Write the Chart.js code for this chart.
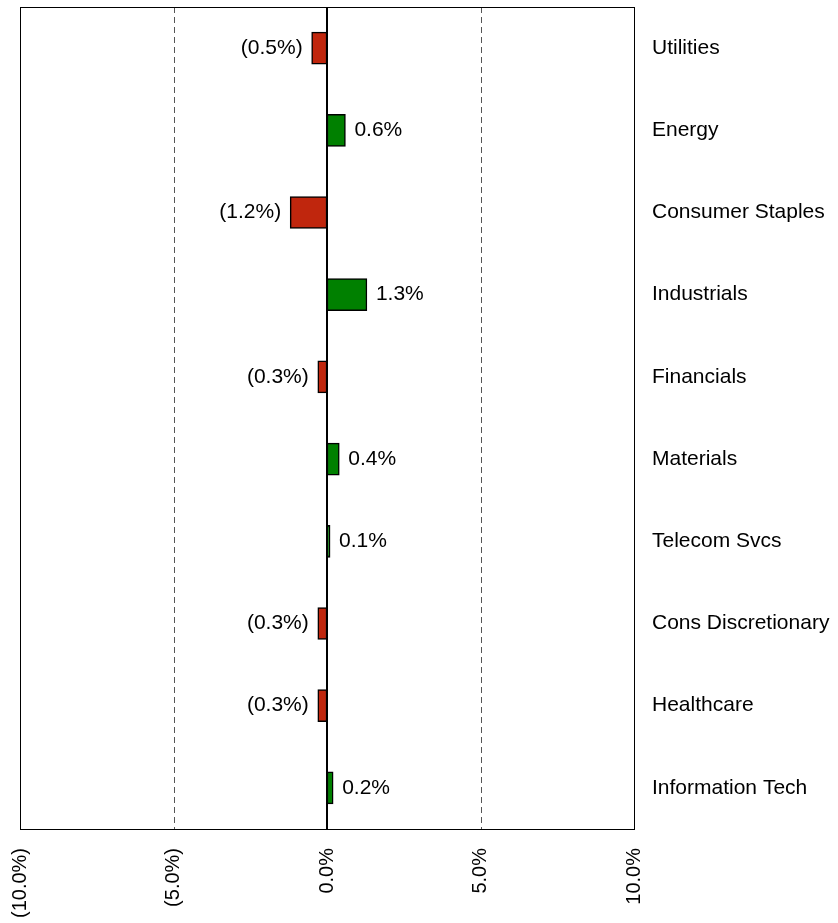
<!DOCTYPE html>
<html>
<head>
<meta charset="utf-8">
<script src="https://cdn.jsdelivr.net/npm/chart.js@4"></script>
<style>
  html, body { margin: 0; padding: 0; background: #fff; }
  #wrap { width: 838px; height: 923px; }
</style>
</head>
<body>
<div id="wrap"><canvas id="grafico"></canvas></div>
<script>
const sectors = ['Utilities', 'Energy', 'Consumer Staples', 'Industrials', 'Financials',
    'Materials', 'Telecom Svcs', 'Cons Discretionary', 'Healthcare', 'Information Tech'];
const values = [-0.5, 0.6, -1.2, 1.3, -0.3, 0.4, 0.1, -0.3, -0.3, 0.2];
const tickValues = [-10, -5, 0, 5, 10];

const FONT = '"Liberation Sans", Arial, sans-serif';

function fmtPct(v) {
    const s = Math.abs(v).toFixed(1) + '%';
    return v < 0 ? '(' + s + ')' : s;
}

// value labels at the end of each bar
const barLabels = {
    id: 'barLabels',
    afterDatasetsDraw(chart) {
        const ctx = chart.ctx;
        const meta = chart.getDatasetMeta(0);
        ctx.save();
        ctx.font = '21px ' + FONT;
        ctx.fillStyle = '#000';
        ctx.textBaseline = 'middle';
        meta.data.forEach(function (bar, i) {
            const v = values[i];
            if (v < 0) {
                ctx.textAlign = 'right';
                ctx.fillText(fmtPct(v), bar.x - 9, bar.y);
            } else {
                ctx.textAlign = 'left';
                ctx.fillText(fmtPct(v), bar.x + 9, bar.y);
            }
        });
        ctx.restore();
    }
};

// grid lines and frame around the plot area
const frame = {
    id: 'frame',
    beforeDatasetsDraw(chart) {
        const ctx = chart.ctx;
        const a = chart.chartArea;
        const x = chart.scales.x;
        ctx.save();
        ctx.strokeStyle = '#555';
        ctx.lineWidth = 1;
        ctx.setLineDash([6, 4]);
        [-5, 5].forEach(function (v) {
            const px = Math.round(x.getPixelForValue(v)) + 0.5;
            ctx.beginPath();
            ctx.moveTo(px, a.top);
            ctx.lineTo(px, a.bottom);
            ctx.stroke();
        });
        ctx.setLineDash([]);
        ctx.strokeStyle = '#000';
        ctx.strokeRect(Math.round(a.left) + 0.5, Math.round(a.top) + 0.5,
            Math.round(a.right - a.left), Math.round(a.bottom - a.top));
        ctx.restore();
    },
    afterDatasetsDraw(chart) {
        const ctx = chart.ctx;
        const a = chart.chartArea;
        const px = Math.round(chart.scales.x.getPixelForValue(0));
        ctx.save();
        ctx.strokeStyle = '#000';
        ctx.lineWidth = 2;
        ctx.beginPath();
        ctx.moveTo(px, a.top);
        ctx.lineTo(px, a.bottom);
        ctx.stroke();
        ctx.restore();
    }
};

new Chart(document.getElementById('grafico').getContext('2d'), {
    type: 'bar',
    data: {
        labels: sectors,
        datasets: [{
            data: values,
            backgroundColor: values.map(v => v < 0 ? '#C0260D' : '#008000'),
            borderColor: '#000',
            borderWidth: 1.5,
            borderSkipped: false,
            barThickness: 32
        }]
    },
    options: {
        indexAxis: 'y',
        responsive: true,
        maintainAspectRatio: false,
        animation: false,
        layout: { padding: { left: 20, top: 7, right: 0, bottom: 0 } },
        plugins: {
            legend: { display: false },
            tooltip: { enabled: false }
        },
        scales: {
            x: {
                min: -10,
                max: 10,
                afterBuildTicks(scale) {
                    scale.ticks = tickValues.map(v => ({ value: v }));
                },
                afterFit(scale) {
                    scale.height = 94;
                    scale.paddingLeft = 0;
                    scale.paddingRight = 0;
                },
                grid: { display: false, drawTicks: false },
                border: { display: false },
                ticks: {
                    minRotation: 90,
                    maxRotation: 90,
                    padding: 19,
                    color: '#000',
                    font: { family: FONT, size: 20 },
                    callback: v => fmtPct(v)
                }
            },
            y: {
                position: 'right',
                afterFit(scale) {
                    scale.width = 204;
                    scale.paddingTop = 0;
                    scale.paddingBottom = 0;
                },
                grid: { display: false, drawTicks: false },
                border: { display: false },
                ticks: {
                    padding: 18,
                    color: '#000',
                    font: { family: FONT, size: 21 }
                }
            }
        }
    },
    plugins: [frame, barLabels]
});
</script>
</body>
</html>
